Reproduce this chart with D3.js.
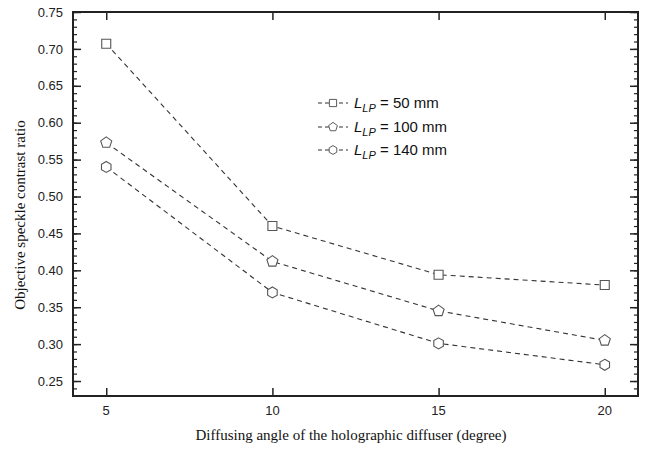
<!DOCTYPE html>
<html>
<head>
<meta charset="utf-8">
<script src="https://cdn.jsdelivr.net/npm/d3@7"></script>
<style>
  body { margin: 0; background: #fff; }
  svg { display: block; }
</style>
</head>
<body>
<svg id="chart" width="651" height="449"></svg>
<script>
// data
const angles = [5, 10, 15, 20];
const lp50 = [0.707, 0.460, 0.394, 0.380];
const lp100 = [0.573, 0.412, 0.345, 0.305];
const lp140 = [0.540, 0.370, 0.301, 0.272];
const seriesNames = ["50 mm", "100 mm", "140 mm"];
const xTicks = [5, 10, 15, 20];
const yTicks = [0.25, 0.30, 0.35, 0.40, 0.45, 0.50, 0.55, 0.60, 0.65, 0.70, 0.75];

let svg = d3.select("#chart");
const plotL = 73, plotR = 638, plotT = 12, plotB = 396;

let x = d3.scaleLinear().domain([4, 21]).range([plotL, plotR]);
let y = d3.scaleLinear().domain([0.2297, 0.75]).range([plotB, plotT]);

const ink = "#222";
const lineCol = "#333";
const markCol = "#555";

// minor ticks on y
let minor = d3.range(0.23, 0.7501, 0.01).map(d => +d.toFixed(2));

// left axis
svg.append("g").attr("transform", "translate(" + plotL + ",0)")
    .call(d3.axisRight(y).tickValues(yTicks).tickSize(8).tickFormat(""))
    .call(g => g.select(".domain").remove())
    .selectAll("line").attr("stroke", ink).attr("stroke-width", 1.5);
svg.append("g").attr("transform", "translate(" + plotL + ",0)")
    .call(d3.axisRight(y).tickValues(minor).tickSize(4).tickFormat(""))
    .call(g => g.select(".domain").remove())
    .selectAll("line").attr("stroke", ink).attr("stroke-width", 1.2);

// right axis
svg.append("g").attr("transform", "translate(" + plotR + ",0)")
    .call(d3.axisLeft(y).tickValues(yTicks).tickSize(8).tickFormat(""))
    .call(g => g.select(".domain").remove())
    .selectAll("line").attr("stroke", ink).attr("stroke-width", 1.5);
svg.append("g").attr("transform", "translate(" + plotR + ",0)")
    .call(d3.axisLeft(y).tickValues(minor).tickSize(4).tickFormat(""))
    .call(g => g.select(".domain").remove())
    .selectAll("line").attr("stroke", ink).attr("stroke-width", 1.2);

// y tick labels
svg.append("g").selectAll("text").data(yTicks).join("text")
    .attr("x", plotL - 10)
    .attr("y", d => y(d))
    .attr("dy", "0.36em")
    .attr("text-anchor", "end")
    .attr("font-family", "Liberation Sans, Arial, sans-serif")
    .attr("font-size", 13)
    .attr("fill", ink)
    .text(d => d.toFixed(2));

// bottom & top axes
svg.append("g").attr("transform", "translate(0," + plotB + ")")
    .call(d3.axisTop(x).tickValues(xTicks).tickSize(8).tickFormat(""))
    .call(g => g.select(".domain").remove())
    .selectAll("line").attr("stroke", ink).attr("stroke-width", 1.5);
svg.append("g").attr("transform", "translate(0," + plotT + ")")
    .call(d3.axisBottom(x).tickValues(xTicks).tickSize(8).tickFormat(""))
    .call(g => g.select(".domain").remove())
    .selectAll("line").attr("stroke", ink).attr("stroke-width", 1.5);

svg.append("g").selectAll("text").data(xTicks).join("text")
    .attr("x", d => x(d))
    .attr("y", plotB + 19)
    .attr("text-anchor", "middle")
    .attr("font-family", "Liberation Sans, Arial, sans-serif")
    .attr("font-size", 13)
    .attr("fill", ink)
    .text(d => d);

// frame
svg.append("rect")
    .attr("x", plotL).attr("y", plotT)
    .attr("width", plotR - plotL).attr("height", plotB - plotT)
    .attr("fill", "none").attr("stroke", ink).attr("stroke-width", 2);

// marker shapes
function polyPath(n, r, rot) {
    let pts = d3.range(n).map(i => {
        let a = rot + i * 2 * Math.PI / n;
        return [r * Math.cos(a), r * Math.sin(a)];
    });
    return "M" + pts.map(p => p[0].toFixed(2) + "," + p[1].toFixed(2)).join("L") + "Z";
}
const shapes = [
    "M-4.5,-4.5L4.5,-4.5L4.5,4.5L-4.5,4.5Z",
    polyPath(5, 5.8, -Math.PI / 2),
    polyPath(6, 5.5, -Math.PI / 2)
];

let allSeries = [lp50, lp100, lp140];
let line = d3.line().x((d, i) => x(angles[i])).y(d => y(d));

allSeries.forEach((vals, k) => {
    svg.append("path")
        .attr("d", line(vals))
        .attr("fill", "none")
        .attr("stroke", lineCol)
        .attr("stroke-width", 1.1)
        .attr("stroke-dasharray", "5,4");
    svg.append("g").selectAll("path").data(vals).join("path")
        .attr("transform", (d, i) => "translate(" + x(angles[i]) + "," + y(d) + ")")
        .attr("d", shapes[k])
        .attr("fill", "white")
        .attr("stroke", markCol)
        .attr("stroke-width", 1.1);
});

// legend
let legendY = [103, 127, 150];
seriesNames.forEach((name, k) => {
    let ly = legendY[k];
    svg.append("line")
        .attr("x1", 318).attr("x2", 348)
        .attr("y1", ly).attr("y2", ly)
        .attr("stroke", lineCol).attr("stroke-width", 1.1)
        .attr("stroke-dasharray", "4,3");
    svg.append("path")
        .attr("transform", "translate(333," + ly + ") scale(0.8)")
        .attr("d", shapes[k])
        .attr("fill", "white")
        .attr("stroke", markCol)
        .attr("stroke-width", 1.2);
    let t = svg.append("text")
        .attr("x", 354).attr("y", ly + 5)
        .attr("font-family", "Liberation Sans, Arial, sans-serif")
        .attr("font-size", 15)
        .attr("fill", "#111");
    t.append("tspan").attr("font-style", "italic").text("L");
    t.append("tspan").attr("font-style", "italic").attr("font-size", 11)
        .attr("dy", 4).text("LP");
    t.append("tspan").attr("dy", -4).text(" = " + name);
});

// axis titles
svg.append("text")
    .attr("x", 351).attr("y", 440)
    .attr("text-anchor", "middle")
    .attr("font-family", "Liberation Serif, Times New Roman, serif")
    .attr("font-size", 15)
    .attr("fill", "#111")
    .text("Diffusing angle of the holographic diffuser (degree)");

svg.append("text")
    .attr("transform", "translate(25,215) rotate(-90)")
    .attr("text-anchor", "middle")
    .attr("font-family", "Liberation Serif, Times New Roman, serif")
    .attr("font-size", 15)
    .attr("fill", "#111")
    .text("Objective speckle contrast ratio");
</script>
</body>
</html>
